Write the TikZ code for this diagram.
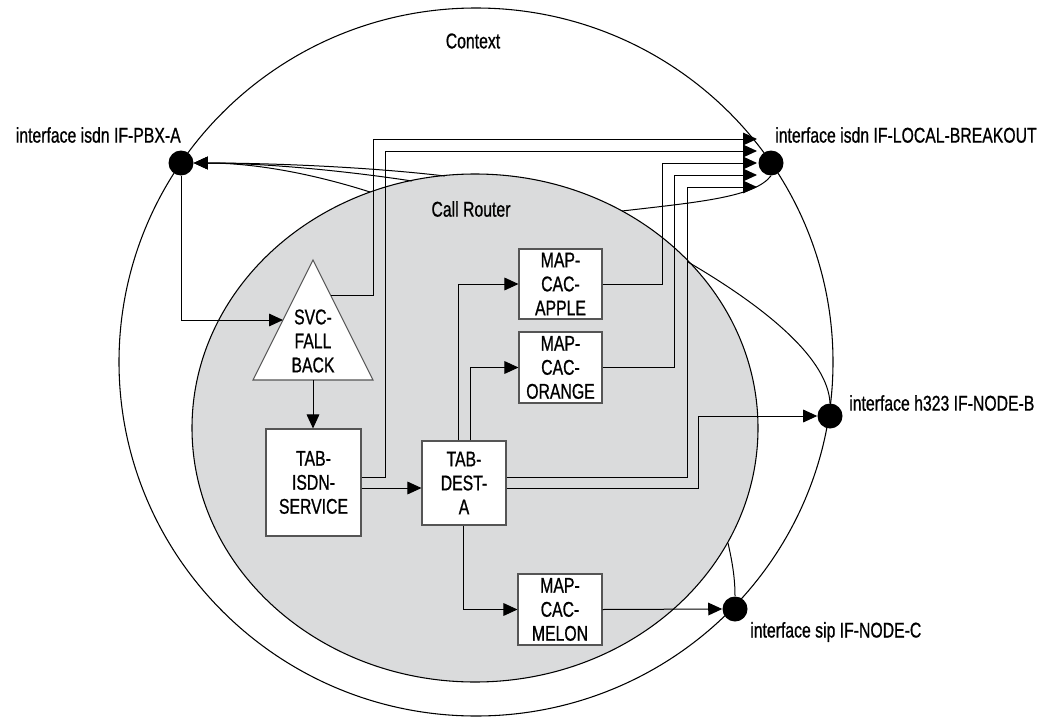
\documentclass[tikz,border=0pt]{standalone}
\usepackage{fontspec}
\setmainfont{Liberation Sans}[FakeStretch=0.74,FakeBold=0.8]
\usetikzlibrary{arrows.meta,shapes.geometric}
\definecolor{crgray}{RGB}{218,219,220}
\definecolor{boxline}{RGB}{85,85,85}
\begin{document}
\begin{tikzpicture}[x=0.75pt,y=-0.75pt,
  lbl/.style={font=\fontsize{16}{18}\selectfont, inner sep=0pt},
  bsize/.style 2 args={minimum width=#1*0.75pt, minimum height=#2*0.75pt},
  box/.style={draw=boxline, fill=white, line width=0.8pt, inner sep=0pt, align=center, font=\fontsize{16}{18}\selectfont},
  tri/.style={draw=boxline, fill=white, line width=0.8pt},
  dot/.style={circle, fill=black, minimum size=18.75pt, inner sep=0pt},
  conn/.style={line width=0.75pt},
  arr/.style={conn, -{Triangle[length=10.5pt,width=9.5pt]}},
  ring/.style={ellipse, draw, line width=0.8pt, inner sep=0pt},
]
\fill[white] (0,0) rectangle (1042,717);
\useasboundingbox (0,0) rectangle (1042,717);

% context and call router
\node[ring, bsize={714}{708}] (ctx) at (476,362) {};
\node[ring, fill=crgray, bsize={566}{508}] (cr) at (475,428) {};
\node[lbl] (ctxl) at (473,41) {Context};
\node[lbl] (crl) at (471,209) {Call Router};

% interfaces
\node[dot] (pbx) at (181,163) {};
\node[dot] (lbo) at (771,163) {};
\node[dot] (h323) at (830,416) {};
\node[dot] (sip) at (735,609) {};
\node[lbl, anchor=east] (pbxl) at (181,135) {interface isdn IF-PBX-A};
\node[lbl, anchor=west] (lbol) at (775,135) {interface isdn IF-LOCAL-BREAKOUT};
\node[lbl, anchor=west] (h323l) at (849,403) {interface h323 IF-NODE-B};
\node[lbl, anchor=west] (sipl) at (750,632) {interface sip IF-NODE-C};

% service triangle
\coordinate (svcT) at (313,260);
\coordinate (svcL) at (253,380);
\coordinate (svcR) at (373,380);
\draw[tri] (svcT) -- (svcR) -- (svcL) -- cycle;
\node[lbl, align=center] (svc) at (313,341) {SVC-\\FALL\\BACK};
\coordinate (svcIn) at (283,320);
\coordinate (svcB) at (313,380);
\coordinate (svcOut) at (331,295);

% tables and maps
\node[box, bsize={95}{107}] (isdn) at (313.5,482.5) {TAB-\\ISDN-\\SERVICE};
\node[box, bsize={84}{84}] (dest) at (464,483) {TAB-\\DEST-\\A};
\node[box, bsize={83}{70}] (apple) at (560.5,284) {MAP-\\CAC-\\APPLE};
\node[box, bsize={83}{71}] (orange) at (560.5,367.5) {MAP-\\CAC-\\ORANGE};
\node[box, bsize={84}{71}] (melon) at (560,609.5) {MAP-\\CAC-\\MELON};

% arrow ends at local breakout
\coordinate (lboA) at (757,139);
\coordinate (lboB) at (757,151);
\coordinate (lboC) at (757,163);
\coordinate (lboD) at (757,175);
\coordinate (lboE) at (757,187);

% points on the call router border
\coordinate (g1) at (445,176);
\coordinate (g2) at (412,181);
\coordinate (g3) at (370,192);
\coordinate (g4) at (622,211);
\coordinate (g5) at (688,262);
\coordinate (g6) at (728,543);

% connectors
\draw[arr] (pbx) |- (svcIn);
\draw[arr] (svcB) -- (svcB |- isdn.north);
\draw[arr] (svcOut) -| (373,139) -- (lboA);
\draw[arr] (isdn.east |- 0,477) -| (385,151) -- (lboB);
\draw[arr] (isdn.east |- 0,488) -- (dest.west |- 0,488);
\draw[arr] (458,0 |- dest.north) |- (apple.west);
\draw[arr] (470,0 |- dest.north) |- (orange.west);
\draw[arr] (apple.east) -| (662,163) -- (lboC);
\draw[arr] (orange.east) -| (674,175) -- (lboD);
\draw[arr] (dest.east |- 0,477) -| (687,187) -- (lboE);
\draw[arr] (dest.east |- 0,488) -| (698,416) -- (h323.west);
\draw[arr] (463,0 |- dest.south) |- (melon.west);
\draw[arr] (melon.east) -- (sip.west);

% call router links to interfaces
\draw[arr] (g1) .. controls (360,166) and (260,163) .. (pbx.east);
\draw[arr] (g2) .. controls (340,170) and (260,163) .. (pbx.east);
\draw[arr] (g3) .. controls (320,176) and (260,163) .. (pbx.east);
\draw[conn] (g4) .. controls (700,202) and (755,197) .. (lbo.south);
\draw[conn] (g5) .. controls (770,310) and (828,360) .. (h323.north);
\draw[conn] (g6) .. controls (733,565) and (735,580) .. (sip.north);
\end{tikzpicture}
\end{document}
